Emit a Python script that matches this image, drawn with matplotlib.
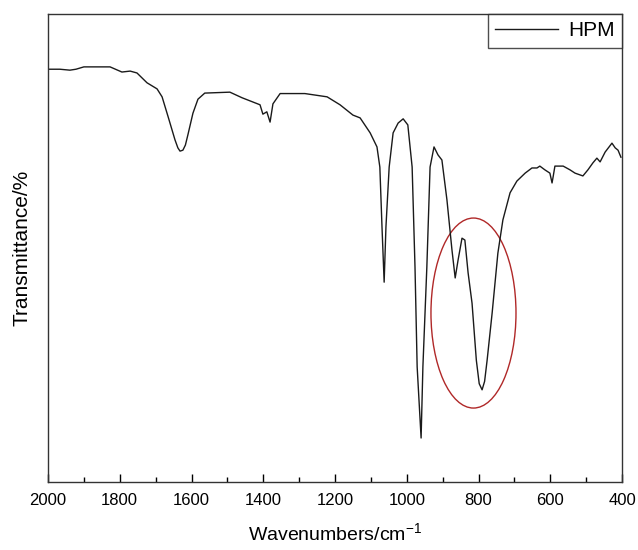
import matplotlib.pyplot as plt
from matplotlib.patches import Ellipse

# FTIR spectrum of HPM
wavenumber = [2000, 1967, 1939, 1922, 1900, 1827, 1794, 1771, 1752, 1724,
              1696, 1682, 1665, 1646, 1638, 1632, 1624, 1617, 1610, 1596, 1582, 1563,
              1493, 1459, 1429, 1409, 1401, 1390, 1381, 1373, 1353, 1284,
              1222, 1186, 1150, 1130, 1102, 1083, 1075, 1069, 1063, 1058,
              1049, 1038, 1024, 1010, 997, 985, 977, 971, 960, 955,
              944, 935, 924, 913, 902, 888, 874, 865, 857, 846,
              838, 829, 818, 806, 798, 790, 783, 776, 762, 746, 732, 712,
              693, 670, 651, 637, 629, 615, 601, 595, 592, 587,
              564, 545, 531, 509, 495, 481, 470, 461, 447, 428,
              419, 411, 403]
transmittance = [88.2, 88.2, 88.0, 88.2, 88.7, 88.7, 87.6, 87.8, 87.4, 85.3,
                 84.0, 82.3, 78.0, 73.1, 71.4, 70.7, 70.9, 72.0, 74.2, 78.8, 81.8, 83.1,
                 83.3, 82.1, 81.2, 80.6, 78.6, 79.1, 76.9, 80.8, 83.0, 83.0,
                 82.3, 80.6, 78.4, 77.8, 74.6, 71.6, 67.3, 54.5, 42.7, 54.5,
                 67.3, 74.6, 76.7, 77.6, 76.3, 67.3, 45.9, 24.6, 9.4, 24.6,
                 45.9, 67.3, 71.6, 69.9, 68.8, 60.3, 49.6, 43.6, 47.4, 52.1,
                 51.7, 44.7, 38.2, 26.0, 21.0, 19.7, 21.5, 26.0, 36.1, 48.9, 56.0, 61.8,
                 64.3, 66.0, 67.1, 67.1, 67.5, 66.7, 66.0, 63.9, 65.2, 67.5,
                 67.5, 66.7, 66.0, 65.4, 66.7, 68.2, 69.2, 68.4, 70.5, 72.4,
                 71.4, 70.9, 69.4]

# highlighted band (centre wavenumber, centre T, width, height)
mark_center = (814, 36.1)
mark_size = (237, 40.6)

plt.rcParams['font.family'] = ['Liberation Sans', 'DejaVu Sans']
plt.rcParams['mathtext.default'] = 'regular'

fig = plt.figure(figsize=(6.38, 5.5), dpi=100)
ax = fig.add_axes([48 / 638, 68 / 550, 574 / 638, 468 / 550])

ax.plot(wavenumber, transmittance, color="#1a1a1a", linewidth=1.0, label="HPM")
ax.add_patch(Ellipse(mark_center, mark_size[0], mark_size[1],
                     fill=False, edgecolor="#b02828", linewidth=1.0))

ax.set_xlim(2000, 400)
ax.set_ylim(0, 100)
ax.set_xticks(range(2000, 399, -200))
ax.set_xticks(range(1900, 400, -200), minor=True)
ax.set_yticks([])
ax.tick_params(axis="x", which="major", direction="in", length=6, width=1,
               labelsize=12, pad=8, top=False)
ax.tick_params(axis="x", which="minor", direction="in", length=3.5, width=1, top=False)
for sp in ax.spines.values():
    sp.set_color("#333333")
    sp.set_linewidth(1.0)

ax.set_xlabel("Wavenumbers/cm$^{-1}$", fontsize=14, labelpad=10)
ax.set_ylabel("Transmittance/%", fontsize=15, labelpad=12)

leg = ax.legend(loc="upper right", borderaxespad=0, fancybox=False,
                edgecolor="#222222", fontsize=15, handlelength=3.0,
                borderpad=0.35, handletextpad=0.5)
leg.get_frame().set_linewidth(1.0)

fig.savefig("out.png", dpi=100)
